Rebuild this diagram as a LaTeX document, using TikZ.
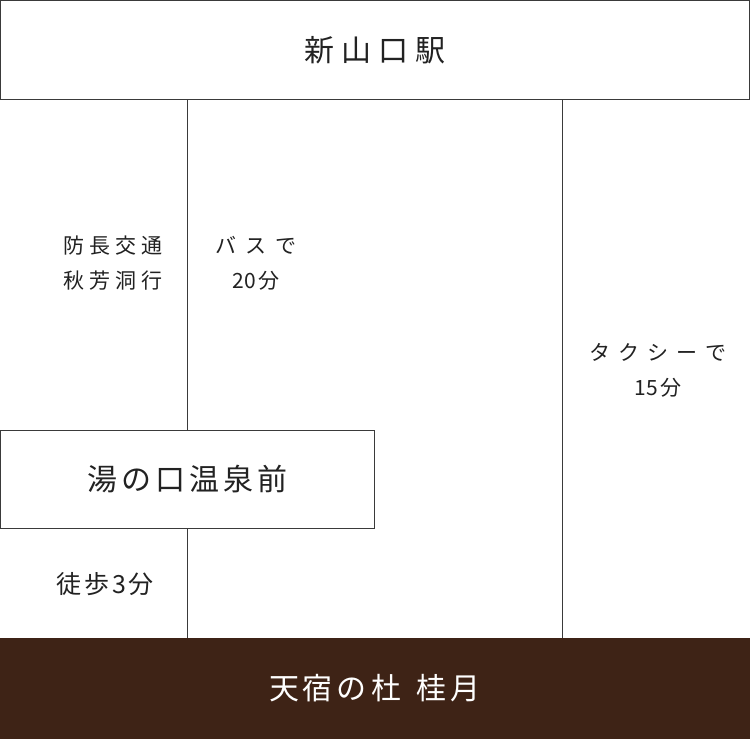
\documentclass[tikz,border=0pt]{standalone}
\usepackage{fontspec}
\setmainfont{Noto Sans CJK JP}
\definecolor{linegray}{HTML}{3A3A3A}
\definecolor{ink}{HTML}{222222}
\definecolor{brown}{HTML}{3E2316}
\begin{document}
\begin{tikzpicture}[x=1pt,y=-1pt,
  stationbox/.style={draw=linegray,line width=1pt,fill=white,inner sep=0pt,text=ink,
    font=\fontsize{30}{34}\selectfont},
  destbox/.style={fill=brown,draw=none,inner sep=0pt,text=white,
    font=\fontsize{30}{34}\selectfont},
  conn/.style={draw=linegray,line width=1pt},
  smalllabel/.style={text=ink,inner sep=0pt,font=\fontsize{21}{35}\selectfont},
  walklabel/.style={text=ink,inner sep=0pt,font=\fontsize{25}{30}\selectfont}]
\useasboundingbox (0,0) rectangle (750,739);
\fill[white] (0,0) rectangle (750,739);
\node[stationbox,minimum width=749pt,minimum height=98.5pt] (top) at (375,49.75)
  {新\kern7pt 山\kern7pt 口\kern7pt 駅};
\node[stationbox,minimum width=373.5pt,minimum height=98pt] (mid) at (187.25,479)
  {湯\kern4pt の\kern4pt 口\kern4pt 温\kern4pt 泉\kern4pt 前};
\node[destbox,minimum width=750pt,minimum height=101pt] (dest) at (375,688.5)
  {天\kern4pt 宿\kern4pt の\kern4pt 杜\kern16pt 桂\kern4pt 月};
\coordinate (tx) at (562,0);
\draw[conn] (top.south -| mid) -- (mid.north);
\draw[conn] (mid.south) -- (mid.south |- dest.north);
\draw[conn] (top.south -| tx) -- (dest.north -| tx);
\node[smalllabel,align=right,anchor=east] (bus1) at (163,263)
  {防\kern5pt 長\kern5pt 交\kern5pt 通\\秋\kern5pt 芳\kern5pt 洞\kern5pt 行};
\node[smalllabel,align=center] (bus2) at (256,263)
  {バ\kern9pt ス\kern9pt で\\20\kern2pt 分};
\node[smalllabel,align=center] (taxi) at (658,370)
  {タ\kern8pt ク\kern8pt シ\kern8pt ー\kern8pt で\\15\kern2pt 分};
\node[walklabel] (walk) at (105,584) {徒\kern3pt 歩\kern3pt 3\kern3pt 分};
\end{tikzpicture}
\end{document}
